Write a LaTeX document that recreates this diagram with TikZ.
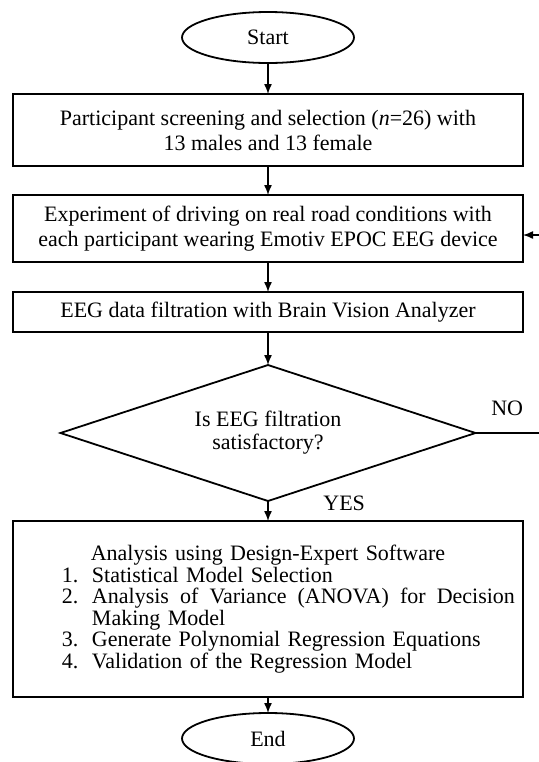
\documentclass[tikz,border=0pt]{standalone}
\usepackage{fontspec}
\setmainfont{Liberation Serif}
\usetikzlibrary{arrows.meta,positioning,shapes.geometric}
\newcommand{\stepitem}[2]{\makebox[255pt][l]{\hspace*{24.5pt}\makebox[15pt][l]{#1}#2}}
\newcommand{\stepitemfull}[2]{\makebox[255pt][l]{\hspace*{24.5pt}\makebox[15pt][l]{#1}\hbox to 211.5pt{#2}}}

\begin{document}
\begin{tikzpicture}[x=0.5pt, y=-0.5pt,
  box/.style={draw, line width=0.9pt, align=center, minimum width=255pt,
    inner sep=3pt, outer sep=0pt, font=\fontsize{11}{12.5}\selectfont},
  term/.style={draw, ellipse, line width=0.9pt, minimum width=86pt,
    minimum height=25.5pt, inner sep=0pt, outer sep=0pt,
    font=\fontsize{11}{12.5}\selectfont},
  decide/.style={draw, diamond, aspect=3, line width=0.9pt, inner sep=0pt,
    outer sep=0pt, minimum width=207.5pt, minimum height=68pt, align=center,
    font=\fontsize{11}{11.5}\selectfont},
  lbl/.style={font=\fontsize{11}{12.5}\selectfont},
  arr/.style={-{Latex[length=5pt,width=4pt]}, line width=0.7pt}]
\useasboundingbox (0,0) rectangle (539,762);
\node[term] (start) at (268,37.5) {Start};
\node[box, minimum height=36pt, below=15.5pt of start] (screen)
  {Participant screening and selection (\emph{n}=26) with\\13 males and 13 female};
\node[box, minimum height=33.5pt, below=14.5pt of screen] (exp)
  {Experiment of driving on real road conditions with\\each participant wearing Emotiv EPOC EEG device};
\node[box, minimum height=20pt, below=15pt of exp] (filt)
  {EEG data filtration with Brain Vision Analyzer};
\node[decide, below=16.5pt of filt] (dec) {Is EEG filtration\\satisfactory?};
\node[box, minimum height=88pt, inner xsep=0pt, text width=255pt,
  font=\fontsize{11}{10.75}\selectfont, below=10pt of dec] (anal)
  {Analysis using Design-Expert Software\\
   \stepitem{1.}{Statistical Model Selection}\\
   \stepitemfull{2.}{Analysis\hfil of\hfil Variance\hfil (ANOVA)\hfil for\hfil Decision}\\
   \stepitem{}{Making Model}\\
   \stepitem{3.}{Generate Polynomial Regression Equations}\\
   \stepitem{4.}{Validation of the Regression Model}};
\node[term, below=8pt of anal] (stop) {End};
\coordinate (noend) at (539,433);
\coordinate (ret) at (539,235);
\draw[arr] (start) -- (screen);
\draw[arr] (screen) -- (exp);
\draw[arr] (exp) -- (filt);
\draw[arr] (filt) -- (dec);
\draw[arr] (dec) -- (anal)
  node[lbl, pos=0.1, anchor=west, xshift=24pt] (yes) {YES};
\draw[arr] (anal) -- (stop);
\draw[line width=0.7pt] (dec.east) -- (dec.east -| noend)
  node[lbl, midway, above=5pt] (no) {NO};
\draw[arr] (ret) -- (ret -| exp.east);
\end{tikzpicture}
\end{document}
